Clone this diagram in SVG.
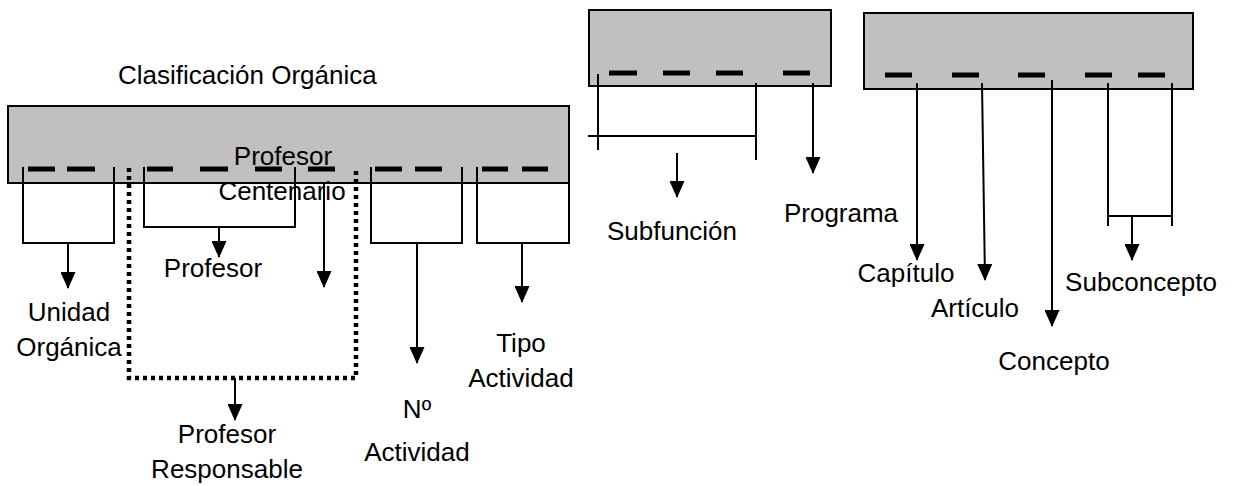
<svg xmlns="http://www.w3.org/2000/svg" width="1238" height="486" viewBox="0 0 1238 486">
<style>
.box{fill:#c0c0c0;stroke:#000;stroke-width:2}
.dash{stroke:#000;stroke-width:5}
.ln{stroke:#000;stroke-width:2;fill:none}
.arr{stroke:#000;stroke-width:2;fill:none;marker-end:url(#ah)}
.dot{stroke:#000;stroke-width:4.5;fill:none;stroke-dasharray:4 4}
text{font-family:"Liberation Sans",Arial,sans-serif;font-size:26px;fill:#000}
.c{text-anchor:middle}
</style>
<defs>
<marker id="ah" markerUnits="userSpaceOnUse" markerWidth="17" markerHeight="15" viewBox="0 0 17 15" refX="16" refY="7.5" orient="auto">
<path d="M0,0 L17,7.5 L0,15 Z" fill="#000"/>
</marker>
</defs>
<g id="title"><text x="118" y="84">Clasificación Orgánica</text></g>

<g id="box-organica">
<rect class="box" x="8" y="106" width="561" height="77"/>
<g class="dash">
<line x1="28" y1="169" x2="55" y2="169"/><line x1="67" y1="169" x2="95" y2="169"/>
<line x1="147" y1="169" x2="173" y2="169"/><line x1="200" y1="169" x2="228" y2="169"/>
<line x1="255" y1="169" x2="282" y2="169"/><line x1="308" y1="169" x2="335" y2="169"/>
<line x1="375" y1="169" x2="402" y2="169"/><line x1="415" y1="169" x2="442" y2="169"/>
<line x1="482" y1="169" x2="508" y2="169"/><line x1="522" y1="169" x2="548" y2="169"/>
</g>
</g>

<g id="box-funcional">
<rect class="box" x="589" y="10" width="242" height="76"/>
<g class="dash">
<line x1="609" y1="73" x2="637" y2="73"/><line x1="663" y1="73" x2="690" y2="73"/>
<line x1="716" y1="73" x2="743" y2="73"/><line x1="783" y1="73" x2="810" y2="73"/>
</g>
</g>

<g id="box-economica">
<rect class="box" x="864" y="13" width="329" height="76"/>
<g class="dash">
<line x1="885" y1="75" x2="912" y2="75"/><line x1="952" y1="75" x2="979" y2="75"/>
<line x1="1018" y1="75" x2="1045" y2="75"/><line x1="1085" y1="75" x2="1112" y2="75"/>
<line x1="1138" y1="75" x2="1165" y2="75"/>
</g>
</g>

<g id="profesor-responsable-group">
<path class="dot" d="M129,168 V378 H356 V168"/>
</g>

<g id="connectors">
<path class="ln" d="M23,167 V243 H114 V167"/>
<path class="arr" d="M68,243 V288"/>
<path class="ln" d="M144,167 V227 H295 V167"/>
<path class="arr" d="M219,227 V257"/>
<path class="arr" d="M324,183 V287"/>
<path class="arr" d="M235,378 V420"/>
<path class="ln" d="M371,167 V243 H462 V167"/>
<path class="arr" d="M417,243 V363"/>
<path class="ln" d="M477,167 V243 H569 V167"/>
<path class="arr" d="M522,243 V302"/>
<path class="ln" d="M598,74 V150"/>
<path class="ln" d="M756,83 V160"/>
<path class="ln" d="M588,136 H756"/>
<path class="arr" d="M677,153 V197"/>
<path class="arr" d="M813,83 V173"/>
<path class="arr" d="M917,83 V260"/>
<path class="arr" d="M982,83 L985,280"/>
<path class="arr" d="M1052,80 V326"/>
<path class="ln" d="M1108,83 V226 M1172,83 V226 M1108,216 H1172"/>
<path class="arr" d="M1132,216 V260"/>
</g>

<g id="label-unidad"><text class="c" x="69" y="321">Unidad</text><text class="c" x="69" y="356">Orgánica</text></g>
<g id="label-profesor"><text class="c" x="213" y="277">Profesor</text></g>
<g id="label-profesor-centenario"><text class="c" x="283" y="165">Profesor</text><text class="c" x="282" y="200">Centenario</text></g>
<g id="label-profesor-responsable"><text class="c" x="227" y="443">Profesor</text><text class="c" x="227" y="478">Responsable</text></g>
<g id="label-n-actividad"><text class="c" x="417" y="418">Nº</text><text class="c" x="417" y="461">Actividad</text></g>
<g id="label-tipo-actividad"><text class="c" x="521" y="352">Tipo</text><text class="c" x="521" y="387">Actividad</text></g>
<g id="label-subfuncion"><text class="c" x="672" y="240">Subfunción</text></g>
<g id="label-programa"><text class="c" x="841" y="222">Programa</text></g>
<g id="label-capitulo"><text class="c" x="906" y="282">Capítulo</text></g>
<g id="label-articulo"><text class="c" x="975" y="317">Artículo</text></g>
<g id="label-concepto"><text class="c" x="1054" y="370">Concepto</text></g>
<g id="label-subconcepto"><text class="c" x="1141" y="291">Subconcepto</text></g>
</svg>
